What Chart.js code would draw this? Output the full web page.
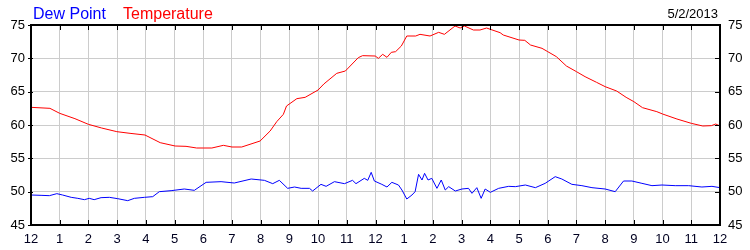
<!DOCTYPE html>
<html>
<head>
<meta charset="utf-8">
<script src="https://cdn.jsdelivr.net/npm/chart.js@4/dist/chart.umd.min.js"></script>
<style>
  html, body { margin: 0; padding: 0; background: #fff; }
  #wrap { position: relative; width: 750px; height: 250px; }
</style>
</head>
<body>
<div id="wrap"><canvas id="weatherChart" width="750" height="250"></canvas></div>
<script>
// hour of day (0 = midnight, 24 = next midnight)
var xTickLabels = ['12','1','2','3','4','5','6','7','8','9','10','11','12','1','2','3','4','5','6','7','8','9','10','11','12'];
var yTicks = [45, 50, 55, 60, 65, 70, 75];
var chartDate = '5/2/2013';

var tempHours = [0, 0.66, 1.0, 1.53, 2.0, 2.46, 2.99, 3.45, 3.97, 4.5, 5.02, 5.4, 5.77, 6.0, 6.3, 6.7, 7.0, 7.34,
  7.98, 8.33, 8.56, 8.79, 8.9, 9.26, 9.55, 10.0, 10.2, 10.65, 10.95, 11.4, 11.55, 11.99, 12.1, 12.25, 12.4, 12.55,
  12.7, 12.9, 13.09, 13.4, 13.55, 13.9, 14.2, 14.4, 14.77, 14.95, 15.1, 15.41, 15.64, 15.87, 16.0, 16.34, 16.45,
  17.0, 17.2, 17.4, 17.8, 18.0, 18.3, 18.65, 19.0, 19.3, 19.7, 20.0, 20.4, 20.73, 21.0, 21.3, 21.8, 22.0, 22.5,
  23.0, 23.4, 23.7, 23.85, 24];
var tempValues = [62.65, 62.5, 61.75, 60.95, 60.1, 59.55, 59.0, 58.75, 58.5, 57.35, 56.85, 56.8, 56.55, 56.55, 56.55, 56.95, 56.7, 56.7,
  57.6, 59.1, 60.5, 61.6, 62.85, 63.95, 64.15, 65.25, 66.15, 67.75, 68.1, 70.1, 70.4, 70.35, 70.0, 70.6, 70.15, 70.9,
  71.0, 71.85, 73.35, 73.35, 73.6, 73.35, 73.9, 73.6, 74.85, 74.55, 74.85, 74.25, 74.25, 74.55, 74.35, 73.85, 73.5,
  72.75, 72.7, 72.0, 71.5, 71.0, 70.25, 68.85, 68.0, 67.25, 66.4, 65.75, 65.1, 64.15, 63.5, 62.6, 62.0, 61.65, 60.9,
  60.25, 59.85, 59.9, 60.15, 59.85];

var dewHours = [0, 0.35, 0.64, 0.9, 1.1, 1.4, 1.63, 1.86, 2.03, 2.2, 2.44, 2.73, 3.02, 3.37, 3.6, 3.95, 4.24, 4.47,
  4.88, 5.34, 5.69, 6.1, 6.62, 7.08, 7.67, 8.13, 8.42, 8.65, 8.94, 9.18, 9.41, 9.7, 9.81, 10.1, 10.28, 10.57, 10.92,
  11.2, 11.32, 11.61, 11.73, 11.85, 11.96, 12.22, 12.4, 12.57, 12.8, 12.92, 13.09, 13.27, 13.38, 13.5, 13.62, 13.71,
  13.83, 13.96, 14.14, 14.29, 14.43, 14.55, 14.78, 15.01, 15.24, 15.36, 15.53, 15.68, 15.82, 16.0, 16.29, 16.64,
  16.87, 17.22, 17.57, 17.91, 18.26, 18.49, 18.84, 19.19, 19.54, 20.0, 20.35, 20.64, 20.93, 21.28, 21.63, 21.98,
  22.44, 22.91, 23.37, 23.72, 24];
var dewValues = [49.5, 49.45, 49.4, 49.7, 49.5, 49.15, 49.0, 48.8, 49.0, 48.8, 49.1, 49.15, 48.95, 48.65, 49.0, 49.15, 49.25, 50.0,
  50.15, 50.4, 50.2, 51.4, 51.5, 51.3, 51.9, 51.7, 51.2, 51.7, 50.5, 50.7, 50.5, 50.5, 50.1, 51.1, 50.8, 51.5, 51.2,
  51.7, 51.2, 52.0, 51.7, 52.9, 51.6, 51.1, 50.7, 51.4, 51.0, 50.25, 48.9, 49.5, 50.0, 52.6, 51.75, 52.75,
  51.75, 52.0, 50.5, 51.75, 50.25, 50.75, 50.1, 50.4, 50.5, 49.75, 50.6, 49.0, 50.4, 49.9, 50.5, 50.8,
  50.75, 51.0, 50.6, 51.25, 52.25, 51.9, 51.1, 50.9, 50.6, 50.4, 50.0, 51.6, 51.6, 51.25, 50.9, 51.0,
  50.9, 50.9, 50.7, 50.8, 50.6];

function toPoints(xs, ys) {
  return xs.map(function (x, i) { return { x: x, y: ys[i] }; });
}

var font13 = { family: 'Liberation Sans, Arial, sans-serif', size: 13 };

// frame, inner tick marks, legend text and date
var decorPlugin = {
  id: 'decor',
  afterDraw: function (chart) {
    var ctx = chart.ctx;
    var a = chart.chartArea;
    var xs = chart.scales.x;
    var yl = chart.scales.y;
    ctx.save();
    ctx.strokeStyle = '#000';
    ctx.lineWidth = 1;
    ctx.beginPath();
    for (var h = 0; h <= 24; h++) {
      var px = Math.round(xs.getPixelForValue(h)) + 0.5;
      ctx.moveTo(px, a.top); ctx.lineTo(px, a.top + 5);
      ctx.moveTo(px, a.bottom); ctx.lineTo(px, a.bottom - 5);
    }
    yTicks.forEach(function (v) {
      var py = Math.round(yl.getPixelForValue(v)) + 0.5;
      ctx.moveTo(a.left - 3, py); ctx.lineTo(a.left + 2, py);
      ctx.moveTo(a.right - 5, py); ctx.lineTo(a.right, py);
    });
    ctx.stroke();
    ctx.lineWidth = 2;
    ctx.strokeRect(Math.round(a.left), Math.round(a.top), Math.round(a.right - a.left), Math.round(a.bottom - a.top));

    ctx.textBaseline = 'alphabetic';
    ctx.font = '16px "Liberation Sans", Arial, sans-serif';
    ctx.textAlign = 'left';
    ctx.fillStyle = '#0000ff';
    ctx.fillText('Dew Point', 33, 19);
    ctx.fillStyle = '#ff0000';
    ctx.fillText('Temperature', 123, 19);
    ctx.font = '13px "Liberation Sans", Arial, sans-serif';
    ctx.fillStyle = '#000';
    ctx.textAlign = 'right';
    ctx.fillText(chartDate, a.right - 2, 18);
    ctx.restore();
  }
};

var ctx = document.getElementById('weatherChart').getContext('2d');
var weatherChart = new Chart(ctx, {
  type: 'line',
  data: {
    datasets: [{
      label: 'Temperature',
      data: toPoints(tempHours, tempValues),
      borderColor: '#ff0000',
      borderWidth: 1,
      pointRadius: 0,
      tension: 0,
      fill: false
    }, {
      label: 'Dew Point',
      data: toPoints(dewHours, dewValues),
      borderColor: '#0000ff',
      borderWidth: 1,
      pointRadius: 0,
      tension: 0,
      fill: false
    }]
  },
  options: {
    responsive: false,
    animation: false,
    layout: { padding: { top: 25, left: 0, right: 0, bottom: 0 } },
    plugins: { legend: { display: false }, tooltip: { enabled: false } },
    scales: {
      x: {
        type: 'linear',
        min: 0,
        max: 24,
        afterBuildTicks: function (scale) {
          scale.ticks = xTickLabels.map(function (l, i) { return { value: i }; });
        },
        afterFit: function (scale) { scale.height = 25; },
        ticks: {
          autoSkip: false,
          maxRotation: 0,
          padding: 7,
          color: '#000020',
          font: font13,
          callback: function (v) { return xTickLabels[v]; }
        },
        grid: { color: '#cccccc', drawTicks: false },
        border: { display: false }
      },
      y: {
        position: 'left',
        min: 45,
        max: 75,
        afterBuildTicks: function (scale) {
          scale.ticks = yTicks.map(function (v) { return { value: v }; });
        },
        afterFit: function (scale) { scale.width = 31; },
        ticks: { padding: 6, color: '#000', font: font13 },
        grid: { color: '#cccccc', drawTicks: false },
        border: { display: false }
      },
      y2: {
        position: 'right',
        min: 45,
        max: 75,
        afterBuildTicks: function (scale) {
          scale.ticks = yTicks.map(function (v) { return { value: v }; });
        },
        afterFit: function (scale) { scale.width = 30; },
        ticks: { padding: 8, color: '#000', font: font13 },
        grid: { display: false, drawTicks: false },
        border: { display: false }
      }
    }
  },
  plugins: [decorPlugin]
});
</script>
</body>
</html>
